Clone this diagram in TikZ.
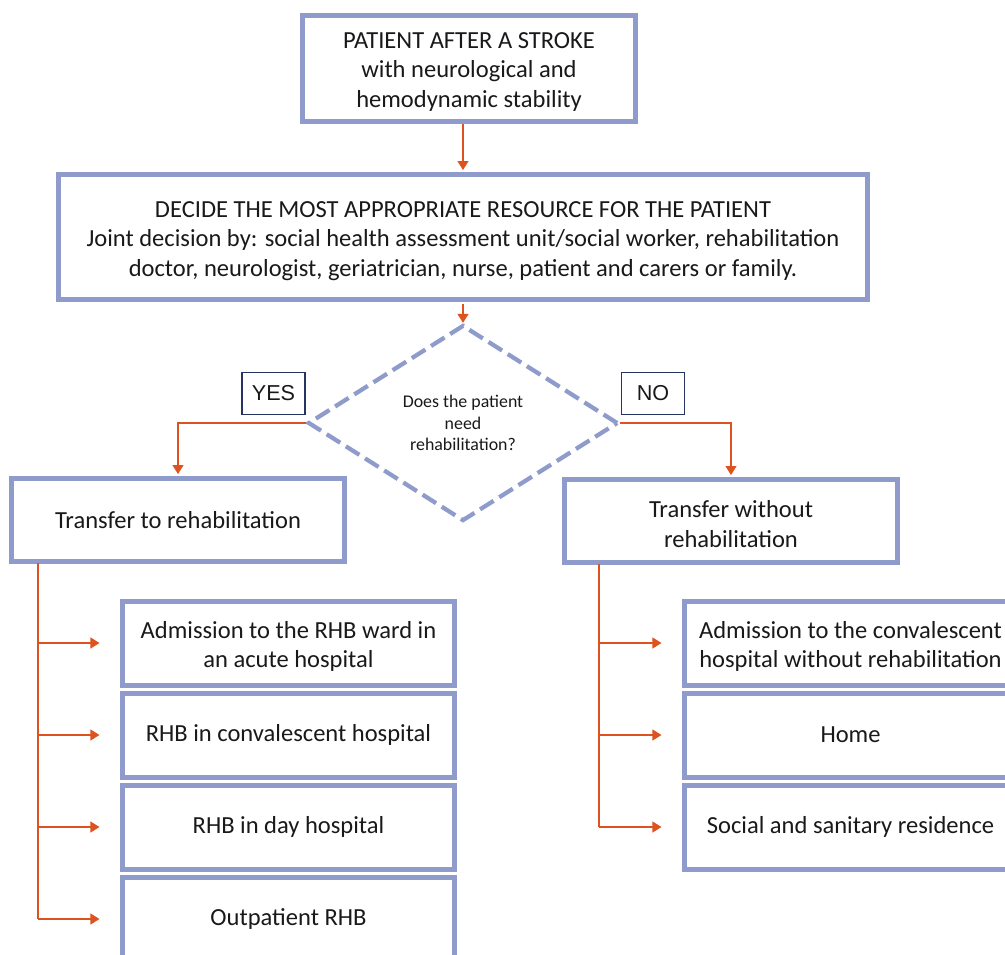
\documentclass[tikz,border=0pt]{standalone}
\usepackage{fontspec}
\setmainfont{Carlito}
\newfontfamily\arialf{Liberation Sans}
\usetikzlibrary{shapes.geometric,arrows.meta,calc}
\definecolor{boxblue}{RGB}{143,156,203}
\definecolor{arrorange}{RGB}{222,82,32}
\definecolor{navyb}{RGB}{38,52,96}
\newcommand{\topstrut}{\rule{0pt}{17.6pt}}
\begin{document}
\begin{tikzpicture}[x=0.75pt,y=-0.75pt,
  box/.style={draw=boxblue,line width=3.75pt,fill=white,align=center,
    font=\fontsize{18.4}{22.1}\selectfont,inner sep=0pt,text=black!90},
  wbox/.style={box,minimum width=249.75pt},
  subbox/.style={box,minimum width=249pt,minimum height=63pt},
  lab/.style={draw=navyb,line width=1.1pt,fill=white,minimum width=47.25pt,minimum height=31.5pt,
    font=\arialf\fontsize{16.2}{18}\selectfont,inner sep=0pt,text=black!90},
  dia/.style={diamond,draw=boxblue,line width=3.2pt,dash pattern=on 12pt off 5pt,
    minimum width=232.5pt,minimum height=147pt,inner sep=0pt,align=center,
    font=\fontsize{13.4}{15.9}\selectfont,text=black!90},
  conn/.style={draw=arrorange,line width=0.8pt},
  arr/.style={conn,-{Triangle[length=6.75pt,width=8.25pt]}}
]
\useasboundingbox (0,0) rectangle (1005,954);
\clip (0,0) rectangle (1005,954);

\node[wbox,minimum height=79.5pt] (top) at (469,68)
  {\topstrut PATIENT AFTER A STROKE\\with neurological and\\hemodynamic stability};
\node[box,minimum width=606.75pt,minimum height=93.75pt] (dec) at (463,237)
  {\topstrut DECIDE THE MOST APPROPRIATE RESOURCE FOR THE PATIENT\\
   Joint decision by: social health assessment unit/social worker, rehabilitation\\
   doctor, neurologist, geriatrician, nurse, patient and carers or family.};
\node[dia] (q) at (463,423) {Does the patient\\need\\rehabilitation?};
\node[lab] (yes) at (273.5,393.5) {YES};
\node[lab] (no) at (653,393.5) {NO};

\node[wbox,minimum height=62.25pt] (lbox) at (178,520) {Transfer to rehabilitation};
\node[wbox,minimum height=62.25pt] (rbox) at (731,521) {\topstrut Transfer without\\rehabilitation};

\node[subbox] (l1) at (288.5,643) {\topstrut Admission to the RHB ward in\\an acute hospital};
\node[subbox] (l2) at (288.5,735) {RHB in convalescent hospital};
\node[subbox] (l3) at (288.5,827) {RHB in day hospital};
\node[subbox] (l4) at (288.5,919) {Outpatient RHB};

\node[subbox] (r1) at (850.5,643) {\topstrut Admission to the convalescent\\hospital without rehabilitation};
\node[subbox] (r2) at (850.5,735) {Home};
\node[subbox] (r3) at (850.5,827) {Social and sanitary residence};

\draw[arr,shorten >=1.5pt] (top.south -| dec.north) -- (dec.north);
\draw[arr,shorten <=1.5pt] (dec.south) -- (q.north);
\draw[arr,shorten >=1.5pt] (q.west) -| (lbox.north);
\draw[arr,shorten >=1.5pt] (q.east) -| (rbox.north);

\coordinate (lt) at (38,563);
\coordinate (rt) at (599,564);
\draw[conn] (lt) -- (lt |- l4.west);
\draw[conn] (rt) -- (rt |- r3.west);
\foreach \n in {l1,l2,l3,l4}{
  \draw[arr,shorten >=15.4pt] (lt |- \n.west) -- (\n.west);
}
\foreach \n in {r1,r2,r3}{
  \draw[arr,shorten >=15.4pt] (rt |- \n.west) -- (\n.west);
}
\end{tikzpicture}
\end{document}
